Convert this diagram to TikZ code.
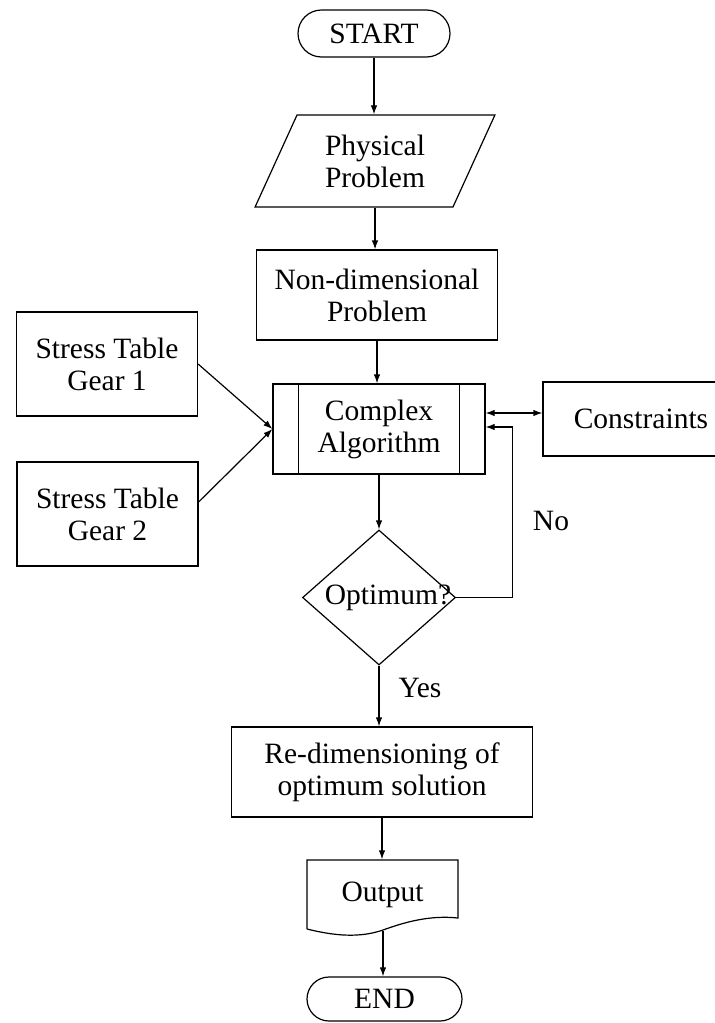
\documentclass[tikz,border=0pt]{standalone}
\usepackage{fontspec}
\setmainfont{Liberation Serif}
\usetikzlibrary{shapes.geometric,shapes.misc,arrows.meta}
\begin{document}
\begin{tikzpicture}[x=1pt,y=-1pt,line width=1.2pt,
  txt/.style={font=\fontsize{29.5}{32}\selectfont, align=center, inner sep=0pt},
  box/.style={txt, draw, rectangle},
  term/.style={txt, draw, rounded rectangle},
  arr/.style={-{Latex[length=9pt,width=6.5pt]}},
  arrb/.style={{Latex[length=9pt,width=6.5pt]}-{Latex[length=9pt,width=6.5pt]}}]
\clip (0,0) rectangle (715,1023);
\fill[white] (0,0) rectangle (715,1023);
% nodes
\node[term, minimum width=152pt, minimum height=47pt] (start) at (374,33.5) {START};
\node[txt, draw, trapezium, trapezium left angle=63, trapezium right angle=117,
      trapezium stretches=true, minimum width=240pt, minimum height=92pt] (phys) at (375,161) {Physical\\Problem};
\node[box, minimum width=241pt, minimum height=90pt] (nondim) at (377,295) {Non-dimensional\\Problem};
\node[box, minimum width=212pt, minimum height=90pt] (complex) at (379,429) {Complex\\Algorithm};
\draw ([xshift=26pt]complex.north west) -- ([xshift=26pt]complex.south west);
\draw ([xshift=-26pt]complex.north east) -- ([xshift=-26pt]complex.south east);
\node[box, minimum width=181pt, minimum height=104pt] (gear1) at (107,364) {Stress Table\\Gear 1};
\node[box, minimum width=181pt, minimum height=104pt] (gear2) at (107.5,514) {Stress Table\\Gear 2};
\node[box, minimum width=196pt, minimum height=74pt] (constr) at (641,419) {Constraints};
\node[draw, diamond, minimum width=153pt, minimum height=135pt, inner sep=0pt] (opt) at (379,597.5) {};
\node[txt] (optt) at (388,598) {Optimum?};
\node[box, minimum width=301pt, minimum height=90pt] (redim) at (382,772) {Re-dimensioning of\\optimum solution};
\node[txt, minimum width=151pt, minimum height=70pt] (out) at (382.5,895) {Output};
\draw (307,929) -- (307,860) -- (458,860) -- (458,918)
      .. controls (430,915) and (405,922) .. (383,930)
      .. controls (360,938) and (335,936) .. (307,929);
\coordinate (outb) at (383,931);
\node[term, minimum width=155pt, minimum height=44pt] (end) at (384.5,999) {END};
\node[txt] (yes) at (420,688) {Yes};
\node[txt] (no) at (551,521) {No};
% connectors
\draw[arr] (start.south) -- (start.south |- phys.north);
\draw[arr] (phys.south) -- (phys.south |- nondim.north);
\draw[arr] (nondim.south) -- (nondim.south |- complex.north);
\draw[arr] (gear1.east) -- (complex.west);
\draw[arr] ([yshift=12pt]gear2.east) -- (complex.west);
\draw[arrb] ([yshift=16pt]complex.east) -- ([yshift=6pt]constr.west);
\draw[arr] (complex.south) -- (opt.north);
\draw[arr] (opt.east) -- ++(56,0) |- ([yshift=2pt]complex.east);
\draw[arr] (opt.south) -- (opt.south |- redim.north);
\draw[arr] (redim.south) -- (redim.south |- out.north);
\draw[arr] (outb) -- (outb |- end.north);
\end{tikzpicture}
\end{document}
